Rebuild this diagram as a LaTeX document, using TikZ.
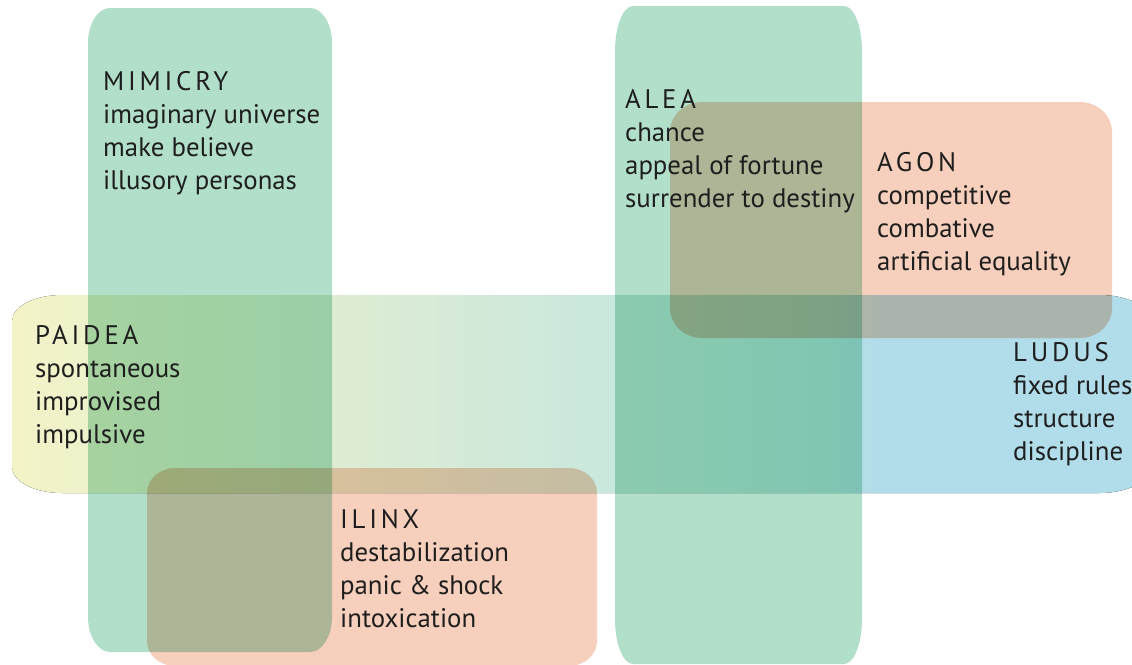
\documentclass[tikz,border=0pt]{standalone}
\usepackage{fontspec}
\setmainfont{PT Sans}
\newfontfamily\headfont[LetterSpace=14]{PT Sans}

\definecolor{playgreen}{HTML}{B2DFCA}
\definecolor{playsalmon}{HTML}{F7D0BD}
\definecolor{bandyellow}{HTML}{F4F3C8}
\definecolor{bandgreen}{HTML}{DDECD4}
\definecolor{bandteal}{HTML}{C8E7DD}
\definecolor{bandcyan}{HTML}{B9E3E2}
\definecolor{bandblue}{HTML}{B1DCEA}
\definecolor{ink}{HTML}{1E1E1E}

\pgfdeclarehorizontalshading{bandshade}{100bp}{color(0bp)=(bandyellow); color(25bp)=(bandyellow); color(40bp)=(bandgreen); color(52bp)=(bandteal); color(61bp)=(bandcyan); color(63bp)=(bandblue); color(100bp)=(bandblue)}

% rectangle with elliptic corners: [style] x1 y1 x2 y2 rx ry
\newcommand{\playzone}[7][]{%
  \fill[#1] (#2+#6,#3) -- (#4-#6,#3)
    arc[start angle=-90, end angle=0, x radius=#6, y radius=#7]
    -- (#4,#5-#7)
    arc[start angle=0, end angle=90, x radius=#6, y radius=#7]
    -- (#2+#6,#5)
    arc[start angle=90, end angle=180, x radius=#6, y radius=#7]
    -- (#2,#3+#7)
    arc[start angle=180, end angle=270, x radius=#6, y radius=#7]
    -- cycle;}

\begin{document}
\begin{tikzpicture}[x=1pt, y=-1pt,
		gametext/.style={anchor=base west, align=left, inner sep=0pt, text=ink,
			font=\fontsize{26.8}{33}\selectfont},
		]
		\useasboundingbox (0,0) rectangle (1132,664);

		% Band: paidea -> ludus
		\playzone[shading=bandshade]{12}{295}{1150}{493}{50}{26}

		% Columns
		\begin{scope}[blend mode=multiply]
			\playzone[playgreen]{88}{8}{332}{652}{22}{35}
			\playzone[playgreen]{615}{6}{862}{664}{18}{45}
			% Boxes
			\playzone[playsalmon]{670}{102}{1112}{338}{32}{30}
			\playzone[playsalmon]{147}{468}{597}{666}{28}{25}
		\end{scope}

		% Labels (anchored at the baseline of the last line)
		\node[gametext] (mimicry) at (103,189)
			{{\headfont MIMICRY}\\imaginary universe\\make believe\\illusory personas};
		\node[gametext] (alea) at (625,207)
			{{\headfont ALEA}\\chance\\appeal of fortune\\surrender to destiny};
		\node[gametext] (agon) at (877,270)
			{{\headfont AGON}\\competitive\\combative\\artificial equality};
		\node[gametext] (paidea) at (35,443)
			{{\headfont PAIDEA}\\spontaneous\\improvised\\impulsive};
		\node[gametext] (ludus) at (1013,460)
			{{\headfont LUDUS}\\fixed rules\\structure\\discipline};
		\node[gametext] (ilinx) at (340,627)
			{{\headfont ILINX}\\destabilization\\panic \& shock\\intoxication};
	\end{tikzpicture}
\end{document}
